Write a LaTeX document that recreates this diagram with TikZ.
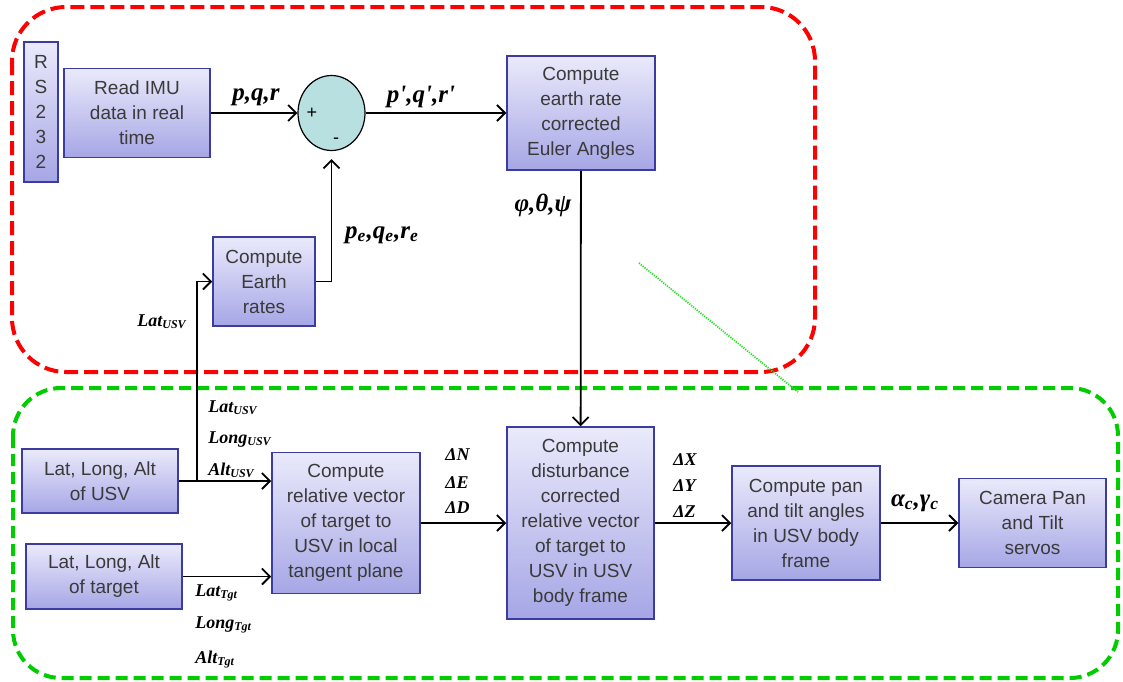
\documentclass[tikz,border=0pt]{standalone}
\usepackage{fontspec}
\setmainfont{Liberation Sans}
\newfontfamily\lblfont{Liberation Serif}
\usepackage{xcolor}
\usepackage{tikz}
\usetikzlibrary{positioning,calc}
\usetikzlibrary{arrows.meta,shapes}
\definecolor{boxtop}{RGB}{234,234,251}
\definecolor{boxbot}{RGB}{166,166,230}
\definecolor{boxedge}{RGB}{60,60,160}
\definecolor{txtgray}{RGB}{58,58,58}
\definecolor{sumfill}{RGB}{185,224,224}
\definecolor{framered}{RGB}{255,0,0}
\definecolor{framegreen}{RGB}{0,204,0}
\definecolor{guidegreen}{RGB}{40,225,40}
\tikzstyle{block} = [rectangle,draw=boxedge,line width=0.75pt,top color=boxtop,bottom color=boxbot,text=txtgray,align=center,inner sep=1pt,font=\fontsize{9.5}{12.5}\selectfont]
\tikzstyle{line} = [-{Straight Barb[length=4pt,width=8pt]},line width=0.9pt]
\tikzstyle{lbl} = [font=\lblfont\bfseries\itshape\fontsize{12.5}{14}\selectfont,inner sep=0pt]
\tikzstyle{slbl} = [font=\lblfont\bfseries\itshape\fontsize{9}{10}\selectfont,inner sep=0pt,anchor=west]
\tikzstyle{frame} = [line width=2pt]

\begin{document}
\begin{tikzpicture}[x=0.5pt,y=-0.5pt]
        \useasboundingbox (0,0) rectangle (1123,681);
        % dashed group frames
        \draw[frame,framered,dash pattern=on 7pt off 3pt,rounded corners=27pt] (12,7) rectangle (815,372);
        \draw[frame,framegreen,dash pattern=on 6pt off 3pt,rounded corners=24pt] (13,388) rectangle (1118,678);
        \draw[guidegreen,line width=0.9pt,dash pattern=on 0.6pt off 0.6pt] (639,263) -- (798,392);
        % earth rate loop
        \node[block,minimum width=17pt,minimum height=70pt] (rs) at (41,112) {R\\S\\2\\3\\2};
        \node[block,minimum width=73pt,minimum height=44.5pt] (imu) at (137,113) {Read IMU\\data in real\\time};
        \node[ellipse,draw,line width=0.6pt,fill=sumfill,minimum width=33.5pt,minimum height=37.5pt] (sum) at (331.5,113) {};
        \node[font=\small,inner sep=0pt] (plus) at (312,113) {+};
        \node[font=\small,inner sep=0pt] (minus) at (336,141) {-};
        \node[block,minimum width=74pt,minimum height=57pt] (euler) at (581,113) {Compute\\earth rate\\corrected\\Euler Angles};
        \node[block,minimum width=51pt,minimum height=44.5pt] (earth) at (264,281.5) {Compute\\Earth\\rates};
        % target chain
        \node[block,minimum width=78pt,minimum height=32pt] (usv) at (100,481) {Lat, Long, Alt\\of USV};
        \node[block,minimum width=78pt,minimum height=32.5pt] (tgt) at (104,576.5) {Lat, Long, Alt\\of target};
        \node[block,minimum width=74pt,minimum height=70.5pt] (rel) at (346,523) {Compute\\relative vector\\of target to\\USV in local\\tangent plane};
        \node[block,minimum width=73.5pt,minimum height=96pt] (dist) at (580.5,523) {Compute\\disturbance\\corrected\\relative vector\\of target to\\USV in USV\\body frame};
        \node[block,minimum width=74pt,minimum height=57pt] (pan) at (806,523) {Compute pan\\and tilt angles\\in USV body\\frame};
        \node[block,minimum width=73.5pt,minimum height=44.5pt] (cam) at (1032.5,523) {Camera Pan\\and Tilt\\servos};
        \coordinate (split) at ($(usv.east)+(18,0)$);
        % connectors
        \draw[line] (imu) -- (sum);
        \draw[line] (sum) -- (euler);
        \draw[line,shorten >=4pt] (earth.east) -| (sum.south);
        \draw[line] (split) |- (earth.west);
        \draw[line] (euler) -- (dist);
        \draw[line] (usv) -- (usv -| rel.west);
        \draw[line] (tgt) -- (tgt -| rel.west);
        \draw[line] (rel) -- (dist);
        \draw[line] (dist) -- (pan);
        \draw[line] (pan) -- (cam);
        % signal labels
        \node[lbl] (pqr) at (256,97) {p,q,r};
        \node[lbl] (pqrc) at (421,97) {p',q',r'};
        \node[lbl] (pqre) at (382,235) {p\textsubscript{e},q\textsubscript{e},r\textsubscript{e}};
        \node[lbl] (eul) at (543,205) {φ,θ,ψ};
        \node[slbl] (latusv) at (137,322) {Lat\textsubscript{USV}};
        \node[slbl] (latusvb) at (208,408) {Lat\textsubscript{USV}};
        \node[slbl] (longusv) at (208,440) {Long\textsubscript{USV}};
        \node[slbl] (altusv) at (208,470) {Alt\textsubscript{USV}};
        \node[slbl] (lattgt) at (195,593) {Lat\textsubscript{Tgt}};
        \node[slbl] (longtgt) at (195,625) {Long\textsubscript{Tgt}};
        \node[slbl] (alttgt) at (195,660) {Alt\textsubscript{Tgt}};
        \node[slbl] (dn) at (445,455) {ΔN};
        \node[slbl] (de) at (445,483) {ΔE};
        \node[slbl] (dd) at (445,508) {ΔD};
        \node[slbl] (dx) at (673,460) {ΔX};
        \node[slbl] (dy) at (673,486) {ΔY};
        \node[slbl] (dz) at (673,512) {ΔZ};
        \node[lbl] (ang) at (915,503) {α\textsubscript{c},γ\textsubscript{c}};
\end{tikzpicture}
\end{document}
